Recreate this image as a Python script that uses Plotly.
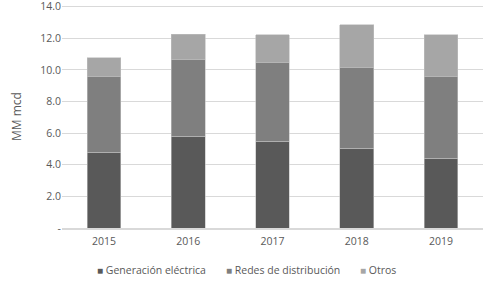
import plotly.graph_objects as go

years = ["2015", "2016", "2017", "2018", "2019"]
generacion = [4.8, 5.8, 5.5, 5.05, 4.4]
redes = [4.75, 4.88, 4.96, 5.13, 5.17]
otros = [1.22, 1.56, 1.77, 2.67, 2.65]
series_names = ["Generación eléctrica", "Redes de distribución", "Otros"]
colors = ["#595959", "#7f7f7f", "#a6a6a6"]
ytick_vals = [0, 2, 4, 6, 8, 10, 12, 14]
ytick_text = ["-", "2.0", "4.0", "6.0", "8.0", "10.0", "12.0", "14.0"]
legend_x = [0.078, 0.385, 0.703]

fig = go.Figure()
for name, vals, c in zip(series_names, [generacion, redes, otros], colors):
    fig.add_trace(go.Bar(x=years, y=vals, name=name, showlegend=False,
                         marker=dict(color=c, line=dict(color="#bfbfbf", width=0.6))))

# legend drawn as text entries with coloured squares
for name, c, lx in zip(series_names, colors, legend_x):
    fig.add_annotation(
        x=lx, y=-0.188, xref="paper", yref="paper", xanchor="left", yanchor="middle",
        showarrow=False,
        text=f"<span style='color:{c};font-size:10px'>■</span> {name}",
        font=dict(family="Open Sans", size=10.5, color="#595959"),
    )

fig.update_layout(
    width=503, height=282,
    barmode="stack",
    bargap=0.6,
    showlegend=False,
    margin=dict(l=62, r=20, t=5, b=54, autoexpand=False),
    paper_bgcolor="white", plot_bgcolor="white",
    font=dict(family="Open Sans", size=10.5, color="#595959"),
    yaxis=dict(range=[0, 14.1], tickvals=ytick_vals, ticktext=ytick_text,
               gridcolor="#d9d9d9", gridwidth=1, zeroline=False,
               title=dict(text="MM mcd", font=dict(size=12, color="#595959"), standoff=16),
               ticks="", showline=False, automargin=False, ticklabeloverflow="allow"),
    xaxis=dict(showline=True, linecolor="#d9d9d9", linewidth=1.5,
               ticks="outside", ticklen=3, tickcolor="rgba(0,0,0,0)",
               automargin=False),
)
fig.write_html("out.html", config={"displayModeBar": False},
               post_script="document.body.style.margin='0';document.body.style.overflow='hidden';")
